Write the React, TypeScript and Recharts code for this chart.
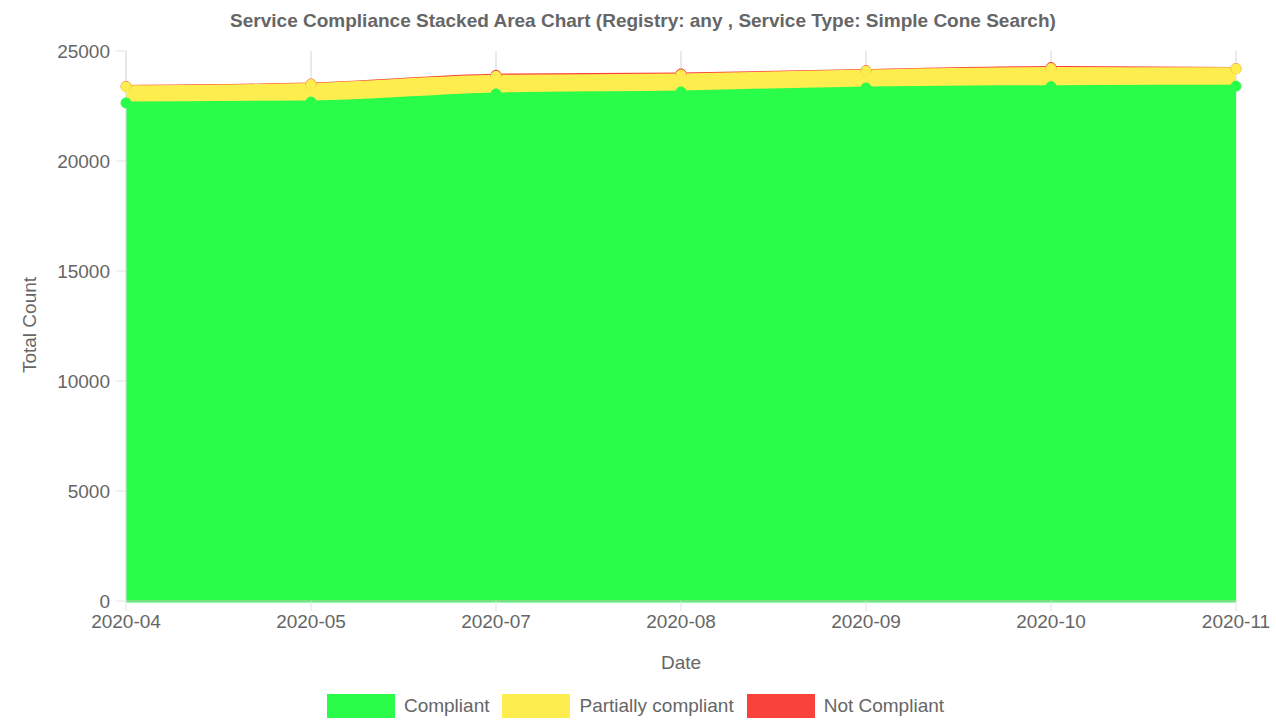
import {
  AreaChart,
  Area,
  CartesianGrid,
  XAxis,
  YAxis,
} from "recharts";

const months = ["2020-04", "2020-05", "2020-07", "2020-08", "2020-09", "2020-10", "2020-11"];
const compliant = [22640, 22680, 23050, 23140, 23320, 23380, 23400];
const partiallyCompliant = [730, 800, 800, 770, 770, 820, 790];
const notCompliant = [20, 20, 50, 50, 20, 50, 10];
const yTicks = [0, 5000, 10000, 15000, 20000, 25000];

const GREEN = "#2afc4a";
const YELLOW = "#fded4f";
const RED = "#f9433a";

const data = months.map((m, i) => ({
  month: m,
  compliant: compliant[i],
  partial: partiallyCompliant[i],
  notCompliant: notCompliant[i],
}));

type Row = (typeof data)[number];

// chart.js draws the first dataset on top, so the stack is built by hand
// and drawn top band first
const bands = [
  {
    key: "notCompliant",
    name: "Not Compliant",
    color: RED,
    range: (d: Row) => [d.compliant + d.partial, d.compliant + d.partial + d.notCompliant],
  },
  {
    key: "partial",
    name: "Partially compliant",
    color: YELLOW,
    range: (d: Row) => [d.compliant, d.compliant + d.partial],
  },
  {
    key: "compliant",
    name: "Compliant",
    color: GREEN,
    range: (d: Row) => [0, d.compliant],
  },
];

const legendItems = [...bands].reverse();

const FONT = "'Liberation Sans', Arial, Helvetica, sans-serif";
const TEXT = "#666";
const FS = 19;

const App = () => {
  return (
    <div style={{ position: "relative", width: 1276, height: 728, fontFamily: FONT }}>
      <style>{"body{margin:0}"}</style>
      <div
        style={{
          position: "absolute",
          top: 10,
          left: 0,
          width: 1286,
          textAlign: "center",
          fontSize: FS,
          fontWeight: "bold",
          color: TEXT,
        }}
      >
        Service Compliance Stacked Area Chart (Registry: any , Service Type: Simple Cone Search)
      </div>
      <div
        style={{
          position: "absolute",
          left: 30,
          top: 325,
          transform: "translate(-50%, -50%) rotate(-90deg)",
          fontSize: FS,
          color: TEXT,
          whiteSpace: "nowrap",
        }}
      >
        Total Count
      </div>
      <div style={{ position: "absolute", left: 0, top: 0 }}>
        <AreaChart
          width={1276}
          height={690}
          data={data}
          margin={{ top: 51, right: 40, left: 0, bottom: 0 }}
        >
          <CartesianGrid horizontal={false} stroke="#e3e3e3" strokeWidth={1.5} />
          <XAxis
            dataKey="month"
            height={89}
            tickSize={10}
            tickMargin={4}
            stroke="#c4c4c4"
            tick={{ fill: TEXT, fontSize: FS, fontFamily: FONT }}
            tickLine={{ stroke: "#e3e3e3" }}
            label={{ value: "Date", position: "insideBottom", offset: 21, fill: TEXT, fontSize: FS, fontFamily: FONT }}
          />
          <YAxis
            width={126}
            domain={[0, 25000]}
            ticks={yTicks}
            tickSize={10}
            tickMargin={6}
            stroke="#e3e3e3"
            tick={{ fill: TEXT, fontSize: FS, fontFamily: FONT }}
          />
          {bands.map((b) => (
            <Area
              key={b.key}
              type="monotone"
              dataKey={b.range}
              name={b.name}
              stroke={b.color}
              strokeWidth={3}
              fill={b.color}
              fillOpacity={1}
              dot={{ r: 5, fill: b.color, stroke: b.color, strokeWidth: 1, fillOpacity: 1 }}
              isAnimationActive={false}
            />
          ))}
        </AreaChart>
      </div>
      <div
        style={{
          position: "absolute",
          top: 694,
          left: 0,
          width: 1276,
          display: "flex",
          justifyContent: "center",
          alignItems: "center",
          fontSize: FS,
          color: TEXT,
          paddingLeft: 8,
          boxSizing: "border-box",
        }}
      >
        {legendItems.map((s) => (
          <div key={s.key} style={{ display: "flex", alignItems: "center", marginRight: 13 }}>
            <span style={{ display: "inline-block", width: 68, height: 24, background: s.color, marginRight: 9 }} />
            <span>{s.name}</span>
          </div>
        ))}
      </div>
    </div>
  );
};

export default App;
